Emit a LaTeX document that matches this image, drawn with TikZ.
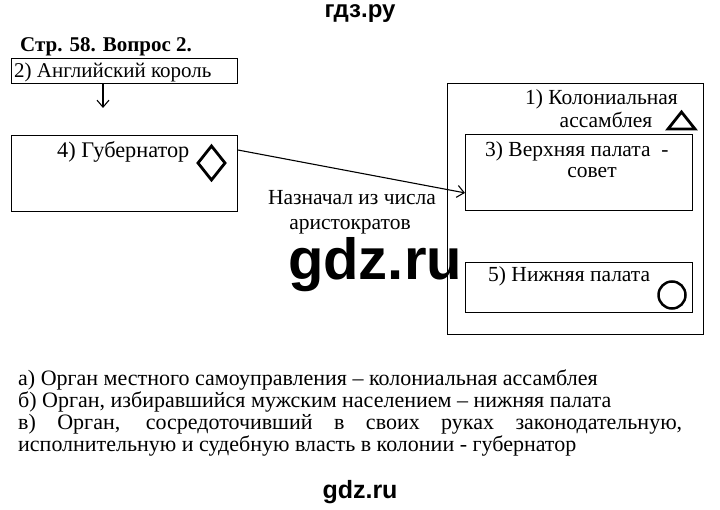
\documentclass[tikz,border=0pt]{standalone}
\usepackage{fontspec}
\setmainfont{Liberation Serif}
\newfontfamily\wmfont{Liberation Sans}
\usetikzlibrary{arrows.meta}
\begin{document}
\begin{tikzpicture}[x=1pt,y=-1pt,
  box/.style={draw, line width=0.9pt, inner sep=0pt, anchor=north west},
  txt/.style={inner sep=0pt, font=\fontsize{21.5}{24}\selectfont},
  bot/.style={inner sep=0pt, anchor=base west, font=\fontsize{22}{24}\selectfont},
  sym/.style={line width=2.8pt, line join=miter},
  conn/.style={line width=1.1pt, -{Straight Barb[length=7pt,width=12pt,line width=1.1pt]}}]
\useasboundingbox (0,0) rectangle (720,510);
% header
\node[inner sep=0pt, anchor=base, font=\wmfont\bfseries\fontsize{24}{28}\selectfont] (hdr) at (360,18) {гдз.ру};
\node[inner sep=0pt, anchor=base west, font=\bfseries\fontsize{21}{24}\selectfont] (title) at (20,52) {Стр. 58. Вопрос 2.};
% boxes
\node[box, minimum width=226pt, minimum height=25pt] (king) at (11,58) {};
\node[box, minimum width=226pt, minimum height=76pt] (gov) at (11,135) {};
\node[box, minimum width=256pt, minimum height=251pt] (asm) at (447,83) {};
\node[box, minimum width=227pt, minimum height=76pt] (upper) at (465,134) {};
\node[box, minimum width=227pt, minimum height=50pt] (lower) at (465,262) {};
% texts
\node[txt, anchor=base west, font=\fontsize{21}{24}\selectfont] (kingt) at (14,78) {2) Английский король};
\node[txt, anchor=base west, font=\fontsize{22.3}{24}\selectfont] (govt) at (57,158) {4) Губернатор};
\node[txt, anchor=base east] (asmt1) at (678,105) {1) Колониальная};
\node[txt, anchor=base] (asmt2) at (606,128) {ассамблея};
\node[txt, anchor=base west] (upt1) at (485,157) {3) Верхняя палата\ \ -};
\node[txt, anchor=base] (upt2) at (592,178) {совет};
\node[txt, anchor=base west] (lowt) at (488,282) {5) Нижняя палата};
\node[txt, anchor=base] (lab1) at (352,205) {Назначал из числа};
\node[txt, anchor=base] (lab2) at (350,230) {аристократов};
% connectors
\coordinate (kingend) at (103,108);
\draw[conn] (king.south -| kingend) -- (kingend);
\draw[conn] ([yshift=-15pt]gov.north east) -- ([yshift=18pt]upper.south west);
% symbols
\draw[sym] (198,163) -- (211.5,146) -- (225,163) -- (211.5,180) -- cycle;
\draw[sym] (668,129) -- (695,129) -- (681.5,112) -- cycle;
\draw[line width=2.5pt] (672,295) circle (13.5);
% watermark
\node[inner sep=0pt, anchor=base, font=\wmfont\bfseries\fontsize{58}{60}\selectfont] (wm) at (375,280) {gdz.ru};
% bottom text
\node[bot] (la) at (18,385) {а) Орган местного самоуправления – колониальная ассамблея};
\node[bot] (lb) at (18,407) {б) Орган, избиравшийся мужским населением – нижняя палата};
\node[bot] (lc) at (18,429) {\makebox[664pt][s]{в) Орган, сосредоточивший в своих руках законодательную,}};
\node[bot] (ld) at (18,451) {исполнительную и судебную власть в колонии - губернатор};
\node[inner sep=0pt, anchor=base, font=\wmfont\bfseries\fontsize{25}{28}\selectfont] (ftr) at (360,498) {gdz.ru};
\end{tikzpicture}
\end{document}
